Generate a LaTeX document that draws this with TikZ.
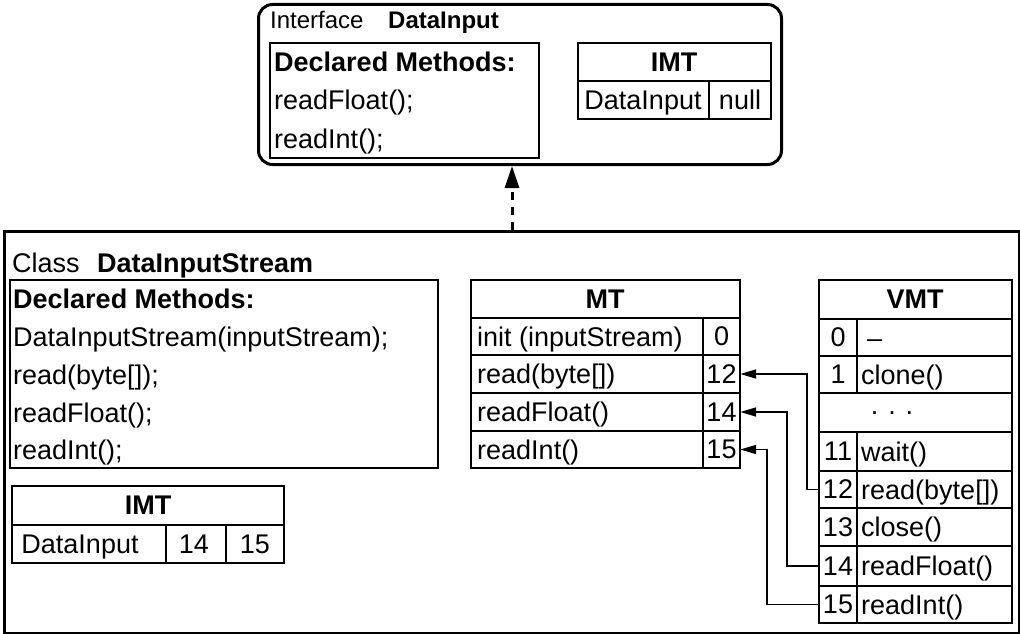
\documentclass[tikz,border=0pt]{standalone}
\usepackage{fontspec}
\setmainfont{Liberation Sans}
\usetikzlibrary{arrows.meta}
\tikzset{
    thickbox/.style={draw, line width=3pt, inner sep=0pt, anchor=north west},
    thinline/.style={line width=1.4pt},
    txt/.style={anchor=base west, inner sep=0pt, font=\fontsize{27}{31}\selectfont},
    ctxt/.style={txt, anchor=base},
    btxt/.style={txt, font=\fontsize{27}{31}\selectfont\bfseries},
    numcell/.style={inner sep=0pt, minimum height=37pt, minimum width=37pt,
        font=\fontsize{27}{31}\selectfont},
    linkarrow/.style={line width=1.8pt, -{Triangle[length=16pt, width=9pt]}},
    implarrow/.style={line width=3pt, dash pattern=on 8pt off 7pt,
        -{Triangle[length=22pt, width=14pt]}}
}

\begin{document}
\begin{tikzpicture}[x=1pt, y=-1pt]
    \useasboundingbox (0,0) rectangle (1020,634);

    % Interface DataInput
    \node[thickbox, rounded corners=14pt, minimum width=523pt, minimum height=160pt]
        (iface) at (257,3) {};
    \node[txt, font=\fontsize{24}{28}\selectfont] (ifacekw) at (270,28.5) {Interface};
    \node[btxt, font=\fontsize{24}{28}\selectfont\bfseries] (ifacename) at (388,28.5) {DataInput};

    \draw[thinline] (270,43) rectangle (539,158);
    \node[btxt] (ifdecl) at (274,71) {Declared Methods:};
    \node[txt] (ifm1) at (274,109) {readFloat();};
    \node[txt] (ifm2) at (274,148) {readInt();};

    \draw[thinline] (578,43) rectangle (771,119)
        (578,81) -- (771,81)
        (709,81) -- (709,119);
    \node[btxt, anchor=base] (ifimt) at (674,71.5) {IMT};
    \node[ctxt] (ifimtname) at (643,109.5) {DataInput};
    \node[ctxt] (ifimtnull) at (740,109.5) {null};

    % Class DataInputStream
    \node[thickbox, minimum width=1015pt, minimum height=402pt] (cls) at (3,230) {};
    \node[txt] (clskw) at (12,272.5) {Class};
    \node[btxt] (clsname) at (97,272.5) {DataInputStream};

    \draw[thinline] (10,280) rectangle (438,468);
    \node[btxt] (cldecl) at (13,308.5) {Declared Methods:};
    \node[txt] (clm1) at (13,346.5) {DataInputStream(inputStream);};
    \node[txt] (clm2) at (13,384.5) {read(byte[]);};
    \node[txt] (clm3) at (13,422.5) {readFloat();};
    \node[txt] (clm4) at (13,459.5) {readInt();};

    \draw[thinline] (12,486) rectangle (284,563)
        (12,525) -- (284,525)
        (166,525) -- (166,563)
        (226,525) -- (226,563);
    \node[btxt, anchor=base] (climt) at (148,514.5) {IMT};
    \node[ctxt] (climtname) at (80,553.5) {DataInput};
    \node[ctxt] (climt14) at (194,553.5) {14};
    \node[ctxt] (climt15) at (255,553.5) {15};

    % MT
    \draw[thinline] (471,280) rectangle (740,468)
        (471,318) -- (740,318)
        (471,355) -- (740,355)
        (471,393) -- (740,393)
        (471,431) -- (740,431)
        (703,318) -- (703,468);
    \node[btxt, anchor=base] (mthead) at (605,308.5) {MT};
    \node[txt] (mtm0) at (477,346.5) {init (inputStream)};
    \node[txt] (mtm12) at (477,383.5) {read(byte[])};
    \node[txt] (mtm14) at (477,421.5) {readFloat()};
    \node[txt] (mtm15) at (477,459.5) {readInt()};
    \node[numcell] (mt0) at (721.5,336.5) {0};
    \node[numcell] (mt12) at (721.5,374) {12};
    \node[numcell] (mt14) at (721.5,412) {14};
    \node[numcell] (mt15) at (721.5,449.5) {15};

    % VMT
    \draw[thinline] (819,280) rectangle (1012,623)
        (819,319) -- (1012,319)
        (819,356) -- (1012,356)
        (819,393) -- (1012,393)
        (819,432) -- (1012,432)
        (819,471) -- (1012,471)
        (819,508) -- (1012,508)
        (819,546) -- (1012,546)
        (819,586) -- (1012,586)
        (857,319) -- (857,393)
        (857,432) -- (857,623);
    \node[btxt, anchor=base] (vmthead) at (915,308.5) {VMT};
    \node[numcell] (vmt0) at (838,337.5) {0};
    \node[numcell] (vmt1) at (838,374.5) {1};
    \node[numcell] (vmt11) at (838,451.5) {11};
    \node[numcell] (vmt12) at (838,489.5) {12};
    \node[numcell] (vmt13) at (838,527) {13};
    \node[numcell] (vmt14) at (838,566) {14};
    \node[numcell] (vmt15) at (838,604.5) {15};
    \node[txt] (vmtm0) at (867,347) {--};
    \node[txt] (vmtm1) at (861,384) {clone()};
    \node[numcell, minimum width=0pt, minimum height=0pt] (vmtdots) at (892,413) {. . .};
    \node[txt] (vmtm11) at (861,461) {wait()};
    \node[txt] (vmtm12) at (861,499) {read(byte[])};
    \node[txt] (vmtm13) at (861,536.5) {close()};
    \node[txt] (vmtm14) at (861,575.5) {readFloat()};
    \node[txt] (vmtm15) at (861,614) {readInt()};

    % liens VMT -> MT
    \draw[linkarrow] (vmt12.west) -- ++(-12,0) |- (mt12.east);
    \draw[linkarrow] (vmt14.west) -- ++(-32,0) |- (mt14.east);
    \draw[linkarrow] (vmt15.west) -- ++(-52,0) |- (mt15.east);

    % implements
    \coordinate (implfoot) at (512,230);
    \draw[implarrow] (implfoot) -- (implfoot |- iface.south);
\end{tikzpicture}
\end{document}
